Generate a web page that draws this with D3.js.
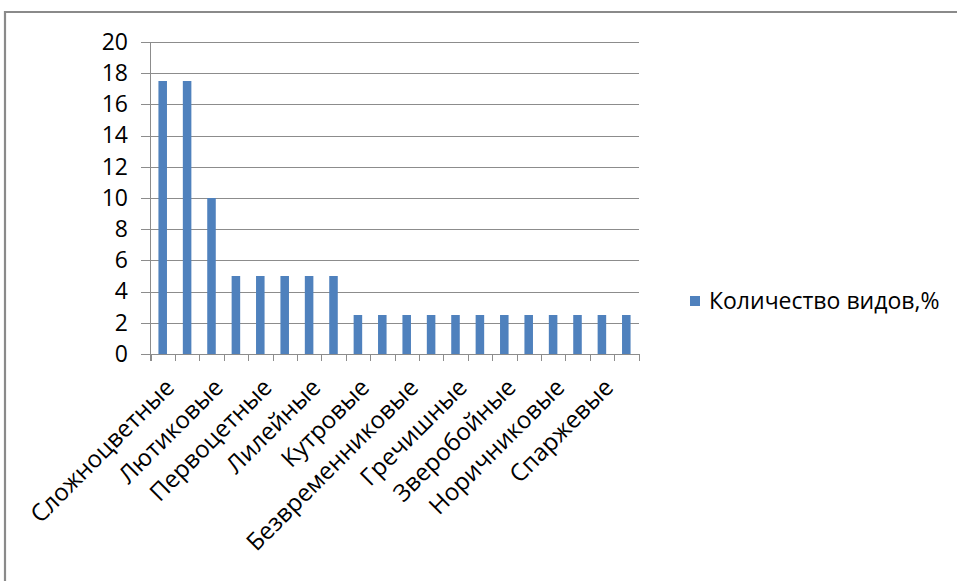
<!DOCTYPE html>
<html><head><meta charset="utf-8">
<script src="https://cdn.jsdelivr.net/npm/d3@7"></script>
<style>body{margin:0;background:#fff}svg{display:block}text{font-family:"Open Sans",sans-serif;fill:#000}</style>
</head><body><svg id="c" width="957" height="581"></svg>
<script>
const categories = ["Сложноцветные","","Лютиковые","","Первоцетные","","Лилейные","","Кутровые","",
  "Безвременниковые","","Гречишные","","Зверобойные","","Норичниковые","","Спаржевые",""];
const values = [17.5,17.5,10,5,5,5,5,5,2.5,2.5,2.5,2.5,2.5,2.5,2.5,2.5,2.5,2.5,2.5,2.5];
const yTicks = [0,2,4,6,8,10,12,14,16,18,20];
const seriesName = "Количество видов,%";

(function(){
const svg = d3.select("#c");
const pl = 150.5, pr = 638.5, pt = 42, pb = 354;
const idx = d3.range(categories.length);

// frame
svg.append("path").attr("d", `M5,581 V12 H957`).attr("fill","none").attr("stroke","#8a8a8a").attr("stroke-width",2.2);

const x = d3.scaleBand().domain(idx).range([pl, pr]).paddingInner(0.65).paddingOuter(0.325);
const xb = d3.scaleLinear().domain([0, categories.length]).range([pl, pr]);
const y = d3.scaleLinear().domain([0, 20]).range([pb, pt]);

// y axis with gridlines
const ga = svg.append("g").attr("transform", `translate(141,0)`)
  .call(d3.axisLeft(y).tickValues(yTicks).tickSize(-(pr - 141)).tickPadding(13));
ga.select(".domain").remove();
ga.selectAll(".tick line").attr("stroke","#8c8c8c").attr("shape-rendering","crispEdges");
ga.selectAll(".tick text").attr("font-size", 23).attr("font-family","'Open Sans',sans-serif").attr("fill","#000");

// bars
svg.append("g").selectAll("rect").data(values).join("rect")
  .attr("x", (d,i) => x(i)).attr("width", x.bandwidth())
  .attr("y", d => y(d)).attr("height", d => y(0) - y(d))
  .attr("fill", "#4F81BD");

// y axis line
svg.append("line").attr("x1", pl).attr("x2", pl).attr("y1", pt).attr("y2", pb + 7)
  .attr("stroke","#8c8c8c").attr("shape-rendering","crispEdges");

// x axis ticks at boundaries
const gx = svg.append("g").attr("transform", `translate(0,${pb})`)
  .call(d3.axisBottom(xb).tickValues(d3.range(categories.length + 1)).tickSize(7).tickFormat(""));
gx.select(".domain").attr("stroke","#8c8c8c").attr("shape-rendering","crispEdges");
gx.selectAll(".tick line").attr("stroke","#8c8c8c").attr("shape-rendering","crispEdges");

// category labels
svg.append("g").selectAll("text").data(idx.filter(i => categories[i] !== "")).join("text")
  .attr("transform", i => `translate(${x(i) + x.bandwidth()/2 + 13},${pb + 35}) rotate(-45)`)
  .attr("text-anchor", "end").attr("font-size", 24).text(i => categories[i]);

// legend
const lg = svg.append("g").attr("transform", "translate(690,296)");
lg.append("rect").attr("width", 10).attr("height", 10).attr("fill", "#4F81BD");
lg.append("text").attr("x", 19).attr("y", 5).attr("dy", "0.35em").attr("font-size", 23).text(seriesName);
})();
</script></body></html>
